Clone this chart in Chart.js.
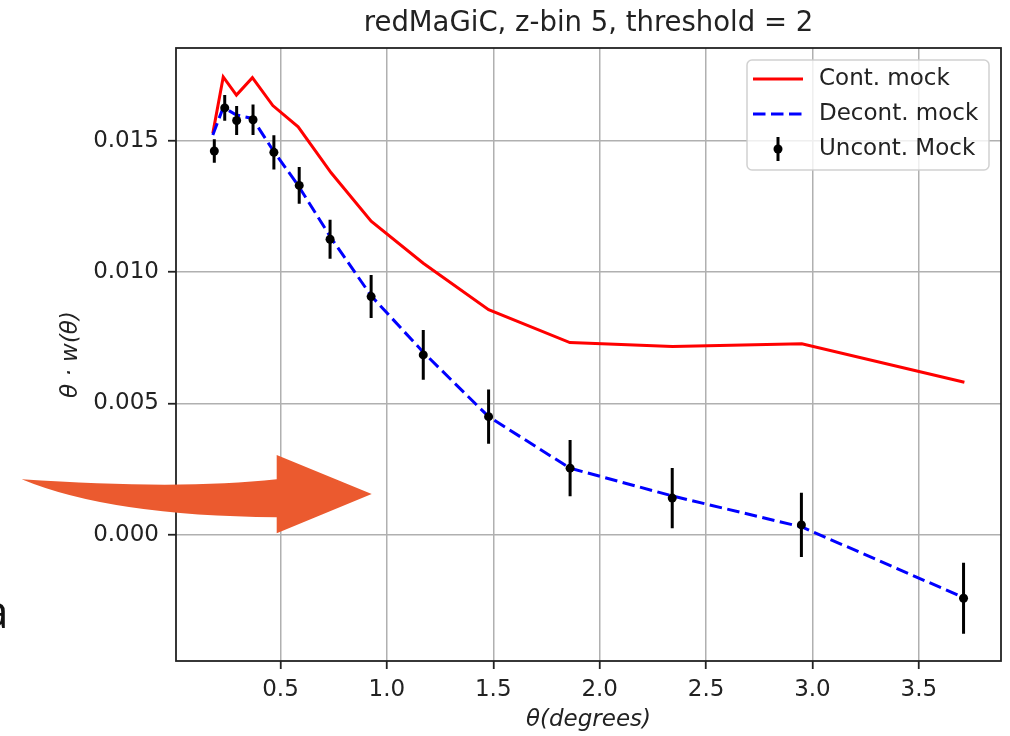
<!DOCTYPE html>
<html>
<head>
<meta charset="utf-8">
<script src="https://cdn.jsdelivr.net/npm/chart.js@4.4.0/dist/chart.umd.min.js"></script>
<style>
  html, body { margin: 0; padding: 0; background: #fff; }
  #wrap { position: relative; width: 1010px; height: 736px; }
</style>
</head>
<body>
<div id="wrap"><canvas id="chart" width="1010" height="736"></canvas></div>
<script>
// theta bins (degrees) for the two model curves
const thetaCont = [0.182, 0.231, 0.293, 0.368, 0.464, 0.583, 0.738, 0.926, 1.171, 1.478, 1.860, 2.342, 2.950, 3.714];
// contaminated mock, theta * w(theta)
const contMock = [0.01528, 0.01743, 0.01674, 0.01740, 0.01634, 0.01553, 0.01378, 0.01194, 0.01034, 0.00857, 0.00732, 0.00717, 0.00727, 0.00581];
// decontaminated mock
const decontMock = [0.01522, 0.01627, 0.01598, 0.01585, 0.01465, 0.01330, 0.01130, 0.00910, 0.00695, 0.00450, 0.00254, 0.00148, 0.00030, -0.00240];
// uncontaminated mock with error bars
const thetaMock = [0.189, 0.238, 0.294, 0.371, 0.469, 0.588, 0.733, 0.926, 1.171, 1.478, 1.861, 2.341, 2.948, 3.710];
const uncontMock = [0.01461, 0.01625, 0.01577, 0.01580, 0.01456, 0.01330, 0.01125, 0.00907, 0.00685, 0.00450, 0.00254, 0.00140, 0.00038, -0.00241];
const uncontErr = [0.00045, 0.00049, 0.00055, 0.00058, 0.00065, 0.00070, 0.00074, 0.00082, 0.00095, 0.00103, 0.00107, 0.00115, 0.00122, 0.00135];

const xTickValues = [0.5, 1.0, 1.5, 2.0, 2.5, 3.0, 3.5];
const yTickValues = [0.000, 0.005, 0.010, 0.015];

const FONT = "'DejaVu Sans', sans-serif";
const INK = '#222';

Chart.defaults.font.family = FONT;
Chart.defaults.color = INK;

// error bars are drawn just before the marker dots
const errorBars = {
  id: 'errorBars',
  beforeDatasetDraw(chart, args) {
    if (args.index !== 2) return;
    const { ctx, scales: { x, y } } = chart;
    ctx.save();
    ctx.strokeStyle = 'black';
    ctx.lineWidth = 3;
    ctx.beginPath();
    uncontMock.forEach((v, i) => {
      const px = x.getPixelForValue(thetaMock[i]);
      ctx.moveTo(px, y.getPixelForValue(v + uncontErr[i]));
      ctx.lineTo(px, y.getPixelForValue(v - uncontErr[i]));
    });
    ctx.stroke();
    ctx.restore();
  }
};

// full box around the axes, like matplotlib spines
const frame = {
  id: 'frame',
  afterDatasetsDraw(chart) {
    const { ctx, chartArea: a } = chart;
    ctx.save();
    ctx.strokeStyle = '#222';
    ctx.lineWidth = 1.8;
    ctx.strokeRect(a.left, a.top, a.right - a.left, a.bottom - a.top);
    ctx.restore();
  }
};

// legend inside the axes, upper right, with a framed box
const boxLegend = {
  id: 'boxLegend',
  afterDraw(chart, args, o) {
    const ctx = chart.ctx;
    const a = chart.chartArea;
    const x0 = a.right - o.marginRight - o.width;
    const y0 = a.top + o.marginTop;
    const r = 5;
    ctx.save();
    ctx.beginPath();
    ctx.moveTo(x0 + r, y0);
    ctx.arcTo(x0 + o.width, y0, x0 + o.width, y0 + o.height, r);
    ctx.arcTo(x0 + o.width, y0 + o.height, x0, y0 + o.height, r);
    ctx.arcTo(x0, y0 + o.height, x0, y0, r);
    ctx.arcTo(x0, y0, x0 + o.width, y0, r);
    ctx.closePath();
    ctx.fillStyle = 'rgba(255,255,255,0.8)';
    ctx.fill();
    ctx.strokeStyle = 'rgba(204,204,204,0.9)';
    ctx.lineWidth = 1.5;
    ctx.stroke();

    ctx.font = '23px ' + FONT;
    ctx.textBaseline = 'middle';
    ctx.textAlign = 'left';
    const sx = x0 + 6, sw = 50;
    chart.data.datasets.forEach((ds, i) => {
      const cy = y0 + 19 + i * 35;
      ctx.save();
      if (ds.showLine === false) {
        ctx.strokeStyle = 'black';
        ctx.lineWidth = 3;
        ctx.beginPath();
        ctx.moveTo(sx + sw / 2, cy - 12);
        ctx.lineTo(sx + sw / 2, cy + 12);
        ctx.stroke();
        ctx.fillStyle = 'black';
        ctx.beginPath();
        ctx.arc(sx + sw / 2, cy, ds.pointRadius, 0, Math.PI * 2);
        ctx.fill();
      } else {
        ctx.strokeStyle = ds.borderColor;
        ctx.lineWidth = ds.borderWidth;
        ctx.setLineDash(ds.borderDash || []);
        ctx.beginPath();
        ctx.moveTo(sx, cy);
        ctx.lineTo(sx + sw, cy);
        ctx.stroke();
      }
      ctx.restore();
      ctx.fillStyle = INK;
      ctx.fillText(ds.label, sx + 66, cy);
    });
    ctx.restore();
  }
};

// slide overlay: orange arrow and a clipped letter at the left edge
const slideOverlay = {
  id: 'slideOverlay',
  afterDraw(chart) {
    const ctx = chart.ctx;
    ctx.save();
    ctx.fillStyle = '#eb5a2f';
    ctx.beginPath();
    ctx.moveTo(21.7, 479.3);
    ctx.quadraticCurveTo(180, 490, 276.7, 479.3);
    ctx.lineTo(276.7, 455);
    ctx.lineTo(371.7, 494);
    ctx.lineTo(276.7, 533.3);
    ctx.lineTo(276.7, 517.3);
    ctx.quadraticCurveTo(110, 516, 21.7, 479.3);
    ctx.closePath();
    ctx.fill();

    ctx.fillStyle = '#111';
    ctx.font = "46px 'Open Sans', sans-serif";
    ctx.textBaseline = 'alphabetic';
    ctx.textAlign = 'left';
    ctx.fillText('a', -17, 628);
    ctx.restore();
  }
};

const ctx = document.getElementById('chart').getContext('2d');

new Chart(ctx, {
  type: 'line',
  data: {
    datasets: [
      {
        label: 'Cont. mock',
        data: thetaCont.map((t, i) => ({ x: t, y: contMock[i] })),
        borderColor: '#ff0000',
        backgroundColor: '#ff0000',
        borderWidth: 3,
        pointRadius: 0,
        tension: 0,
        order: 3
      },
      {
        label: 'Decont. mock',
        data: thetaCont.map((t, i) => ({ x: t, y: decontMock[i] })),
        borderColor: '#0000ff',
        backgroundColor: '#0000ff',
        borderWidth: 3,
        borderDash: [12.5, 5.5],
        pointRadius: 0,
        tension: 0,
        order: 2
      },
      {
        label: 'Uncont. Mock',
        data: thetaMock.map((t, i) => ({ x: t, y: uncontMock[i] })),
        showLine: false,
        pointRadius: 4.5,
        pointBorderWidth: 0,
        pointBackgroundColor: 'black',
        borderColor: 'black',
        order: 1
      }
    ]
  },
  options: {
    responsive: false,
    devicePixelRatio: 1,
    animation: false,
    layout: { padding: { left: 0, right: 9, top: 0, bottom: 0 } },
    plugins: {
      legend: { display: false },
      tooltip: { enabled: false },
      title: {
        display: true,
        fullSize: false,
        text: 'redMaGiC, z-bin 5, threshold = 2',
        color: INK,
        font: { family: FONT, size: 27.5, weight: 'normal' },
        padding: { top: 7.3, bottom: 7.7 }
      },
      boxLegend: { width: 242, height: 110, marginRight: 12, marginTop: 12 }
    },
    scales: {
      x: {
        type: 'linear',
        min: 0.009,
        max: 3.886,
        afterBuildTicks: s => { s.ticks = xTickValues.map(v => ({ value: v })); },
        afterFit: s => { s.height = 75; },
        border: { display: false },
        grid: { color: '#b0b0b0', lineWidth: 1.5, tickColor: '#222', tickLength: 8, tickWidth: 1.8 },
        ticks: {
          color: INK, padding: 7, maxRotation: 0, autoSkip: false,
          font: { family: FONT, size: 23 },
          callback: v => v.toFixed(1)
        },
        title: {
          display: true, text: 'θ(degrees)', color: INK,
          font: { family: FONT, size: 23, style: 'italic' },
          padding: { top: 0, bottom: 2.2 }
        }
      },
      y: {
        type: 'linear',
        min: -0.0048,
        max: 0.01853,
        afterBuildTicks: s => { s.ticks = yTickValues.map(v => ({ value: v })); },
        afterFit: s => { s.width = 176; },
        border: { display: false },
        grid: { color: '#b0b0b0', lineWidth: 1.5, tickColor: '#222', tickLength: 8, tickWidth: 1.8 },
        ticks: {
          color: INK, padding: 9,
          font: { family: FONT, size: 23 },
          callback: v => v.toFixed(3)
        },
        title: {
          display: true, text: 'θ · w(θ)', color: INK,
          font: { family: FONT, size: 23, style: 'italic' },
          padding: { top: 57, bottom: 0 }
        }
      }
    }
  },
  plugins: [errorBars, frame, boxLegend, slideOverlay]
});
</script>
</body>
</html>
